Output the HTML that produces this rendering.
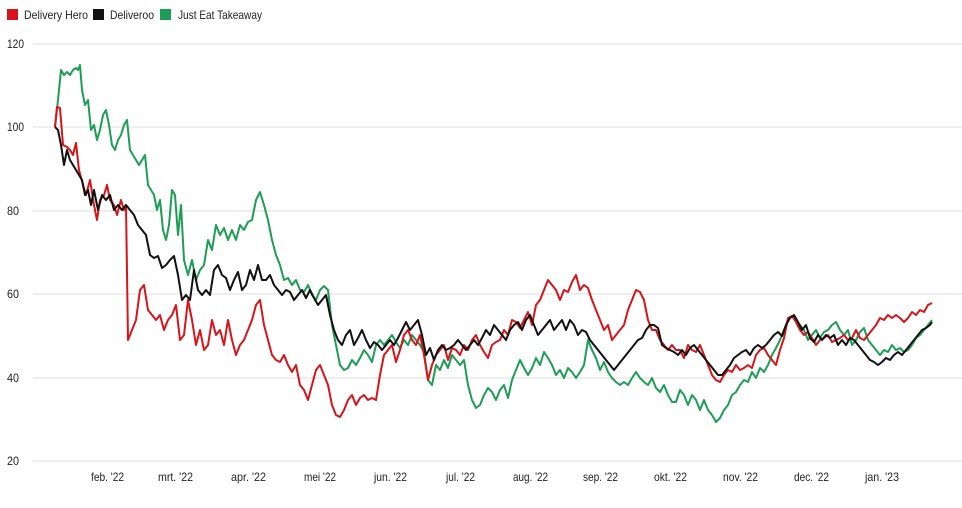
<!DOCTYPE html>
<html><head><meta charset="utf-8"><style>
body{margin:0;background:#fff;}
svg text{font-family:"Liberation Sans",sans-serif;font-size:12px;fill:#222;}
</style></head><body>
<svg width="962" height="503" viewBox="0 0 962 503" xmlns="http://www.w3.org/2000/svg">
<rect x="7" y="9" width="11" height="11" fill="#d7141a"/>
<text x="24" y="19" textLength="64" lengthAdjust="spacingAndGlyphs">Delivery Hero</text>
<rect x="93" y="9" width="11" height="11" fill="#111"/>
<text x="110" y="19" textLength="44" lengthAdjust="spacingAndGlyphs">Deliveroo</text>
<rect x="160" y="9" width="11" height="11" fill="#1d9d55"/>
<text x="178" y="19" textLength="84" lengthAdjust="spacingAndGlyphs">Just Eat Takeaway</text>
<g stroke="#ddd" stroke-width="1">
<line x1="33" y1="44" x2="962" y2="44"/><line x1="33" y1="127" x2="962" y2="127"/>
<line x1="33" y1="211" x2="962" y2="211"/><line x1="33" y1="294" x2="962" y2="294"/>
<line x1="33" y1="378" x2="962" y2="378"/><line x1="33" y1="461" x2="962" y2="461"/>
</g>
<g>
<text x="7" y="48" textLength="17" lengthAdjust="spacingAndGlyphs">120</text><text x="7" y="131" textLength="17" lengthAdjust="spacingAndGlyphs">100</text><text x="7" y="215" textLength="12" lengthAdjust="spacingAndGlyphs">80</text>
<text x="7" y="298" textLength="12" lengthAdjust="spacingAndGlyphs">60</text><text x="7" y="382" textLength="12" lengthAdjust="spacingAndGlyphs">40</text><text x="7" y="465" textLength="12" lengthAdjust="spacingAndGlyphs">20</text>
</g>
<g>
<text x="91" y="481" textLength="33" lengthAdjust="spacingAndGlyphs">feb. '22</text><text x="158" y="481" textLength="35" lengthAdjust="spacingAndGlyphs">mrt. '22</text><text x="231" y="481" textLength="35" lengthAdjust="spacingAndGlyphs">apr. '22</text>
<text x="304" y="481" textLength="32" lengthAdjust="spacingAndGlyphs">mei '22</text><text x="374" y="481" textLength="33" lengthAdjust="spacingAndGlyphs">jun. '22</text><text x="446" y="481" textLength="29" lengthAdjust="spacingAndGlyphs">jul. '22</text>
<text x="513" y="481" textLength="35" lengthAdjust="spacingAndGlyphs">aug. '22</text><text x="583" y="481" textLength="35" lengthAdjust="spacingAndGlyphs">sep. '22</text><text x="654" y="481" textLength="33" lengthAdjust="spacingAndGlyphs">okt. '22</text>
<text x="723" y="481" textLength="35" lengthAdjust="spacingAndGlyphs">nov. '22</text><text x="794" y="481" textLength="35" lengthAdjust="spacingAndGlyphs">dec. '22</text><text x="865" y="481" textLength="34" lengthAdjust="spacingAndGlyphs">jan. '23</text>
</g>
<g fill="none" stroke-width="2" stroke-linejoin="round">
<polyline stroke="#1d9d55" points="55,127 58,100 61,70 64,75 67,72 70,75 73,70 76,68 78,70 80,65 82,90 85,105 88,100 91,130 94,125 97,140 100,130 103,115 106,110 109,125 112,145 115,150 118,140 121,135 124,125 127,120 130,150 133,155 136,160 139,165 142,160 145,155 148,185 151,190 154,195 157,210 160,200 163,230 166,240 169,225 172,190 175,195 178,235 181,205 184,260 188,275 192,260 196,280 200,270 204,265 208,240 212,250 216,225 220,235 224,228 228,240 232,230 236,240 240,225 244,230 248,222 252,220 256,200 260,192 264,205 268,220 272,240 276,255 280,265 284,280 288,278 292,285 296,280 300,290 304,292 308,285 312,295 316,300 320,290 324,286 328,290 332,325 336,345 340,365 344,370 348,368 352,360 356,365 360,358 364,350 368,355 372,362 376,345 380,340 384,345 388,340 392,335 396,342 400,348 404,340 408,345 412,335 416,340 420,345 424,352 428,380 432,385 436,365 440,370 444,360 448,368 452,355 456,360 460,365 464,360 468,385 472,400 476,408 480,405 484,395 488,388 492,392 496,400 500,390 504,385 508,398 512,380 516,370 520,360 524,368 528,375 532,368 536,358 540,365 544,352 548,358 552,365 556,375 560,370 564,378 568,368 572,372 576,378 580,372 584,365 588,340 592,350 596,358 600,370 604,362 608,372 612,378 616,382 620,385 624,382 628,385 632,378 636,372 640,378 644,382 648,385 652,378 656,388 660,392 664,385 668,395 672,402 676,402 680,390 684,395 688,405 692,395 696,400 700,410 704,400 708,410 712,415 716,422 720,418 724,410 728,405 732,395 736,392 740,385 744,380 748,382 752,372 756,378 760,368 764,372 768,365 772,355 776,348 780,340 784,330 788,320 792,316 796,320 800,325 804,330 808,340 812,335 816,330 820,338 824,332 828,330 832,325 836,322 840,330 844,335 848,330 852,345 856,340 860,332 864,328 868,340 872,345 876,350 880,355 884,350 888,352 892,345 896,350 900,348 904,352 908,350 912,345 916,338 920,335 924,330 928,325 932,320"/>
<polyline stroke="#d7141a" points="55,127 57,107 60,108 63,145 67,147 70,150 73,155 76,143 79,170 83,185 86,195 90,180 94,205 97,220 100,200 104,195 107,185 110,200 114,205 117,215 121,200 124,210 126,205 128,340 132,330 136,320 140,290 144,285 148,310 152,315 156,320 160,315 164,330 168,320 172,315 176,305 180,340 184,335 188,300 192,320 196,345 200,330 204,350 208,345 212,320 216,335 220,330 224,345 228,320 232,340 236,355 240,345 244,340 248,330 252,320 256,305 260,300 264,325 268,340 272,355 276,360 280,362 284,355 288,365 292,372 296,365 300,385 304,390 308,400 312,385 316,370 320,365 324,375 328,385 332,405 336,415 340,417 344,410 348,400 352,395 356,405 360,398 364,395 368,400 372,398 376,400 380,375 384,355 388,350 392,345 396,362 400,350 404,335 408,330 412,340 416,345 420,335 424,355 428,380 432,365 436,355 440,350 444,345 448,360 452,348 456,350 460,355 464,345 468,350 472,340 476,335 480,345 484,352 488,358 492,345 496,342 500,340 504,330 508,335 512,320 516,322 520,328 524,320 528,312 532,325 536,305 540,300 544,290 548,280 552,285 556,290 560,300 564,290 568,292 572,282 576,275 580,290 584,285 588,288 592,300 596,310 600,320 604,330 608,325 612,340 616,335 620,330 624,325 628,310 632,300 636,290 640,292 644,300 648,320 652,330 656,330 660,340 664,345 668,350 672,345 676,350 680,350 684,358 688,345 692,350 696,352 700,345 704,355 708,365 712,375 716,380 720,382 724,375 728,370 732,372 736,365 740,370 744,368 748,365 752,368 756,355 760,350 764,348 768,355 772,360 776,365 780,350 784,338 788,318 792,316 796,322 800,330 804,335 808,332 812,338 816,345 820,340 824,338 828,335 832,342 836,340 840,338 844,335 848,340 852,338 856,330 860,338 864,340 868,335 872,330 876,325 880,318 884,320 888,315 892,318 896,315 900,318 904,322 908,318 912,312 916,315 920,310 924,312 928,305 932,303"/>
<polyline stroke="#111" points="55,127 58,130 61,145 64,165 67,150 70,160 73,165 76,170 79,175 82,180 85,195 88,190 91,205 94,190 98,210 102,195 106,200 110,195 114,210 118,205 122,210 126,205 130,210 134,215 138,225 142,230 146,235 150,255 154,258 158,256 162,268 166,265 170,260 174,256 178,275 182,300 186,295 190,300 194,270 198,290 202,295 206,290 210,295 214,270 218,265 222,275 226,278 230,290 234,280 238,272 242,290 246,285 250,270 254,280 258,265 262,280 266,280 270,275 274,285 278,290 282,295 286,290 290,292 294,300 298,295 302,290 306,298 310,290 314,298 318,305 322,300 326,295 330,315 334,330 338,340 342,345 346,335 350,330 354,345 358,338 362,330 366,340 370,348 374,342 378,345 382,350 386,345 390,340 394,345 398,338 402,330 406,322 410,330 414,325 418,320 422,335 426,355 430,348 434,360 438,350 442,345 446,350 450,348 454,345 458,340 462,345 466,350 470,345 474,340 478,345 482,338 486,330 490,335 494,325 498,330 502,335 506,340 510,330 514,325 518,322 522,330 526,320 530,315 534,325 538,335 542,330 546,325 550,320 554,330 558,325 562,320 566,330 570,320 574,325 578,335 582,330 586,332 590,340 594,345 598,350 602,355 606,360 610,365 614,370 618,365 622,360 626,355 630,350 634,345 638,340 642,338 646,330 650,325 654,325 658,328 662,345 666,348 670,350 674,352 678,355 682,350 686,355 690,348 694,345 698,350 702,355 706,360 710,365 714,370 718,375 722,375 726,370 730,365 734,358 738,355 742,352 746,350 750,355 754,348 758,345 762,348 766,345 770,340 774,335 778,332 782,336 786,325 790,318 794,315 798,322 802,330 806,325 810,338 814,342 818,335 822,340 826,335 830,338 834,335 838,345 842,340 846,345 850,338 854,340 858,345 862,350 866,355 870,360 874,362 878,365 882,362 886,358 890,360 894,355 898,352 902,355 906,350 910,345 914,340 918,335 922,330 926,328 930,325 932,322"/>
</g>
</svg>
</body></html>
